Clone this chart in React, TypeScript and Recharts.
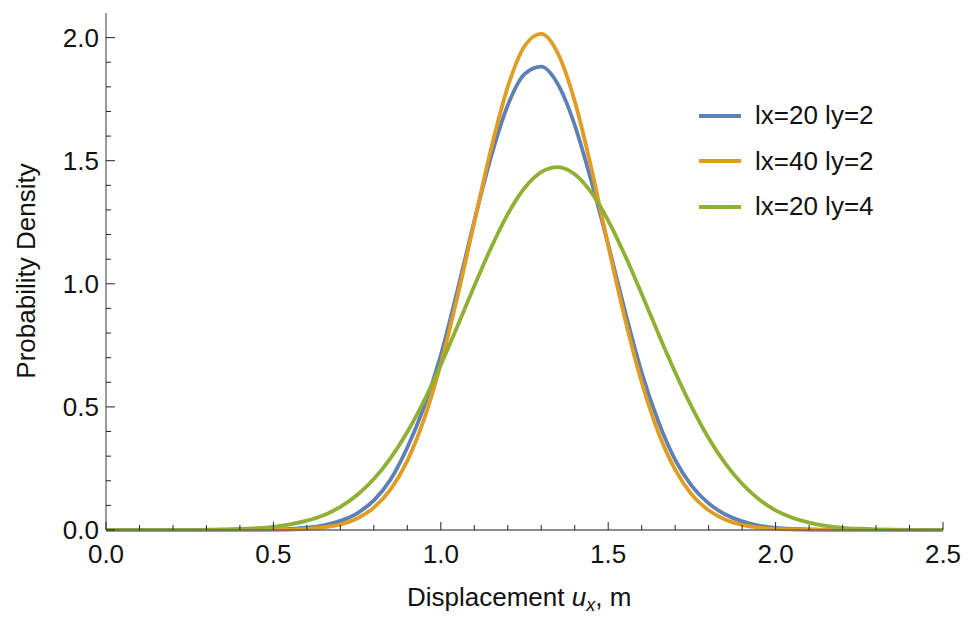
import { LineChart, Line, XAxis, YAxis, Legend } from 'recharts';

// displacement grid (m)
const xs = [
  0, 0.05, 0.1, 0.15, 0.2, 0.25, 0.3, 0.35, 0.4, 0.45,
  0.5, 0.55, 0.6, 0.65, 0.7, 0.75, 0.8, 0.85, 0.9, 0.95,
  1, 1.05, 1.1, 1.15, 1.2, 1.25, 1.3, 1.35, 1.4, 1.45,
  1.5, 1.55, 1.6, 1.65, 1.7, 1.75, 1.8, 1.85, 1.9, 1.95,
  2, 2.05, 2.1, 2.15, 2.2, 2.25, 2.3, 2.35, 2.4, 2.45, 2.5,
];

// lx=20 ly=2
const blue = [
  0, 0, 0, 0, 0, 0, 0, 0.0001, 0.0002, 0.0007,
  0.002, 0.0045, 0.0095, 0.019, 0.037, 0.068, 0.12, 0.205, 0.335, 0.5,
  0.71, 0.975, 1.255, 1.515, 1.725, 1.852, 1.882, 1.81, 1.645, 1.415,
  1.16, 0.89, 0.64, 0.44, 0.285, 0.178, 0.108, 0.063, 0.035, 0.018,
  0.009, 0.0045, 0.002, 0.001, 0.0004, 0.0002, 0, 0, 0, 0, 0,
];

// lx=40 ly=2
const orange = [
  0, 0, 0, 0, 0, 0, 0, 0, 0, 0.0002,
  0.0007, 0.0018, 0.0044, 0.0103, 0.0227, 0.047, 0.091, 0.165, 0.281, 0.45,
  0.674, 0.949, 1.25, 1.548, 1.8, 1.965, 2.015, 1.935, 1.742, 1.468,
  1.155, 0.858, 0.6, 0.395, 0.245, 0.143, 0.08, 0.042, 0.021, 0.01,
  0.0045, 0.002, 0.0008, 0.0003, 0, 0, 0, 0, 0, 0, 0,
];

// lx=20 ly=4
const green = [
  0, 0, 0, 0, 0, 0, 0.0011, 0.0021, 0.004, 0.0074,
  0.013, 0.023, 0.038, 0.06, 0.094, 0.142, 0.207, 0.292, 0.398, 0.525,
  0.671, 0.829, 0.991, 1.146, 1.283, 1.389, 1.454, 1.474, 1.445, 1.37,
  1.257, 1.116, 0.959, 0.797, 0.641, 0.498, 0.373, 0.27, 0.188, 0.125,
  0.08, 0.05, 0.03, 0.017, 0.009, 0.005, 0.0025, 0.0012, 0.0005, 0.0002, 0,
];

const xTicks = [
  0, 0.1, 0.2, 0.3, 0.4, 0.5, 0.6, 0.7, 0.8, 0.9, 1, 1.1, 1.2,
  1.3, 1.4, 1.5, 1.6, 1.7, 1.8, 1.9, 2, 2.1, 2.2, 2.3, 2.4, 2.5,
];
const yTicks = [
  0, 0.1, 0.2, 0.3, 0.4, 0.5, 0.6, 0.7, 0.8, 0.9, 1,
  1.1, 1.2, 1.3, 1.4, 1.5, 1.6, 1.7, 1.8, 1.9, 2,
];

const seriesOrder = ['lx=20 ly=2', 'lx=40 ly=2', 'lx=20 ly=4'];

const data = xs.map((x, i) => ({ x, blue: blue[i], orange: orange[i], green: green[i] }));

const FONT = '"Liberation Sans", Arial, sans-serif';
const TICK_COLOR = '#222';
const FS = 26;

const isMajor = (v: number) => Math.abs(v * 2 - Math.round(v * 2)) < 1e-6;

function XTick(props: any) {
  const { x, y, payload, side } = props;
  const major = isMajor(payload.value);
  const len = major ? 8 : 5;
  const dir = side === 'bottom' ? -1 : 1;
  return (
    <g>
      <line x1={x} y1={y} x2={x} y2={y + dir * len} stroke={TICK_COLOR} strokeWidth={1} />
      {side === 'bottom' && major && (
        <text x={x} y={y + 33} textAnchor="middle" fontSize={FS} fill="#111" fontFamily={FONT}>
          {payload.value.toFixed(1)}
        </text>
      )}
    </g>
  );
}

function YTick(props: any) {
  const { x, y, payload, side } = props;
  const major = isMajor(payload.value);
  const len = major ? 9 : 5;
  const dir = side === 'left' ? 1 : -1;
  return (
    <g>
      <line x1={x} y1={y} x2={x + dir * len} y2={y} stroke={TICK_COLOR} strokeWidth={1} />
      {side === 'left' && major && (
        <text x={x - 7} y={y + 9} textAnchor="end" fontSize={FS} fill="#111" fontFamily={FONT}>
          {payload.value.toFixed(1)}
        </text>
      )}
    </g>
  );
}

function LegendBox({ payload }: any) {
  const items = [...(payload || [])].sort(
    (a: any, b: any) => seriesOrder.indexOf(a.value) - seriesOrder.indexOf(b.value)
  );
  return (
    <div style={{ fontFamily: FONT }}>
      {items.map((entry: any) => (
        <div key={entry.value} style={{ display: 'flex', alignItems: 'center', height: 45.5 }}>
          <span style={{ display: 'inline-block', width: 42, height: 4, background: entry.color }} />
          <span style={{ marginLeft: 14, fontSize: FS, color: '#111', whiteSpace: 'nowrap' }}>{entry.value}</span>
        </div>
      ))}
    </div>
  );
}

export default function App() {
  return (
    <LineChart
      width={955}
      height={613}
      data={data}
      margin={{ top: 5, right: 20, bottom: 0, left: 0 }}
      style={{ background: '#fff' }}
    >
      <XAxis
        xAxisId="x"
        dataKey="x"
        type="number"
        domain={[0, 2.5]}
        ticks={xTicks}
        interval={0}
        height={91}
        tickSize={0}
        tickMargin={0}
        tickLine={false}
        axisLine={{ stroke: '#666', strokeWidth: 1.3 }}
        tick={(p: any) => <XTick {...p} side="bottom" />}
        label={{
          content: () => (
            <text x={399} y={598} textAnchor="start" fontSize={FS} fill="#111" fontFamily={FONT}>
              <tspan>Displacement </tspan>
              <tspan fontStyle="italic">u</tspan>
              <tspan fontStyle="italic" fontSize={18} dy={5}>x</tspan>
              <tspan dy={-5}>, m</tspan>
            </text>
          ),
        }}
      />
      <XAxis
        xAxisId="xt"
        dataKey="x"
        type="number"
        orientation="top"
        domain={[0, 2.5]}
        ticks={xTicks}
        interval={0}
        height={0}
        tickSize={0}
        tickMargin={0}
        tickLine={false}
        axisLine={{ stroke: '#333', strokeWidth: 1.3 }}
        tick={(p: any) => <XTick {...p} side="top" />}
      />
      <YAxis
        yAxisId="y"
        type="number"
        domain={[0, 2.1]}
        ticks={yTicks}
        interval={0}
        width={98}
        tickSize={0}
        tickMargin={0}
        tickLine={false}
        axisLine={{ stroke: '#666', strokeWidth: 1.3 }}
        tick={(p: any) => <YTick {...p} side="left" />}
        label={{
          content: () => (
            <text
              x={27}
              y={263}
              transform="rotate(-90 27 263)"
              textAnchor="middle"
              fontSize={FS}
              fill="#111"
              fontFamily={FONT}
            >
              Probability Density
            </text>
          ),
        }}
      />
      <YAxis
        yAxisId="yr"
        type="number"
        orientation="right"
        domain={[0, 2.1]}
        ticks={yTicks}
        interval={0}
        width={0}
        tickSize={0}
        tickMargin={0}
        tickLine={false}
        axisLine={{ stroke: '#333', strokeWidth: 1.3 }}
        tick={(p: any) => <YTick {...p} side="right" />}
      />
      <Legend
        layout="vertical"
        align="center"
        verticalAlign="middle"
        wrapperStyle={{ top: 85, left: 691, width: 'auto' }}
        content={(p: any) => <LegendBox {...p} />}
      />
      <Line xAxisId="x" yAxisId="y" type="monotone" dataKey="blue" name="lx=20 ly=2" stroke="#5E81B5" strokeWidth={3.8} dot={false} isAnimationActive={false} />
      <Line xAxisId="x" yAxisId="y" type="monotone" dataKey="orange" name="lx=40 ly=2" stroke="#E19C24" strokeWidth={3.8} dot={false} isAnimationActive={false} />
      <Line xAxisId="x" yAxisId="y" type="monotone" dataKey="green" name="lx=20 ly=4" stroke="#8FB032" strokeWidth={3.8} dot={false} isAnimationActive={false} />
    </LineChart>
  );
}
